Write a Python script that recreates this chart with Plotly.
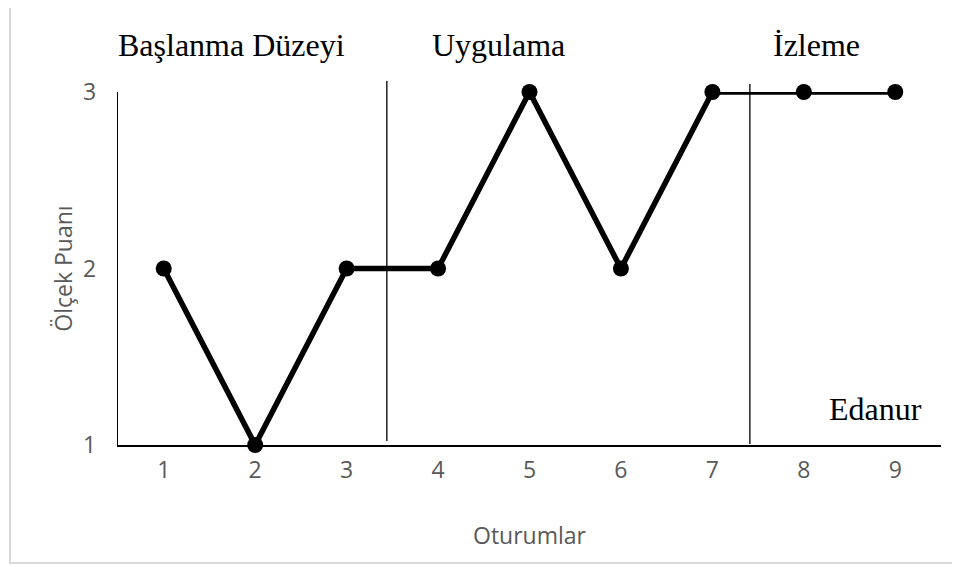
import plotly.graph_objects as go

# sessions and scale scores (Edanur)
sessions = [1, 2, 3, 4, 5, 6, 7, 8, 9]
scores = [2, 1, 2, 2, 3, 2, 3, 3, 3]
y_ticks = [1, 2, 3]

# phase labels and phase change positions (between sessions)
phase_names = ["Başlanma Düzeyi", "Uygulama", "İzleme"]
phase_label_x = [1.74, 4.66, 8.14]
phase_breaks = [3.44, 7.41]
student = "Edanur"

# page has an 8px body margin, so the figure is shrunk by that much
OFF = 8
W, H = 960 - OFF, 567 - OFF
L, R, T, B = 118 - OFF, 19, 92 - OFF, 122
plot_w = W - L - R
plot_h = H - T - B


def px_to_paper_x(px):
    return (px - OFF - L) / plot_w


def px_to_paper_y(py):
    return (H - B - (py - OFF)) / plot_h


fig = go.Figure()

fig.add_trace(go.Scatter(
    x=sessions,
    y=scores,
    mode="lines+markers",
    line=dict(color="black", width=5.5),
    marker=dict(color="black", size=16),
    cliponaxis=False,
    showlegend=False,
    hoverinfo="skip",
))

# phase change lines
for xb, (ytop, ybot) in zip(phase_breaks, [(81, 441), (84, 444)]):
    fig.add_shape(
        type="line", xref="x", yref="paper",
        x0=xb, x1=xb, y0=px_to_paper_y(ybot), y1=px_to_paper_y(ytop),
        line=dict(color="black", width=1.3),
    )

serif = dict(family="Liberation Serif, Times New Roman, serif", size=32, color="black")

for name, xl in zip(phase_names, phase_label_x):
    fig.add_annotation(
        x=xl, xref="x", y=px_to_paper_y(45), yref="paper",
        text=name, showarrow=False, font=serif,
        xanchor="center", yanchor="middle",
    )

fig.add_annotation(
    x=8.78, xref="x", y=px_to_paper_y(409), yref="paper",
    text=student, showarrow=False, font=serif,
    xanchor="center", yanchor="middle",
)

# outer chart border
fig.add_shape(
    type="rect", xref="paper", yref="paper",
    x0=px_to_paper_x(10), x1=px_to_paper_x(965),
    y0=px_to_paper_y(563), y1=px_to_paper_y(3),
    line=dict(color="#d9d9d9", width=2),
    layer="below",
)

gray_font = dict(family="Open Sans, Noto Sans, sans-serif", size=23, color="#595959")

fig.update_layout(
    width=W, height=H,
    margin=dict(l=L, r=R, t=T, b=B),
    paper_bgcolor="white",
    plot_bgcolor="white",
    font=gray_font,
    xaxis=dict(
        range=[0.5, 9.5],
        tickmode="array", tickvals=sessions, ticktext=[str(s) for s in sessions],
        showgrid=False, zeroline=False,
        showline=True, linecolor="black", linewidth=2,
        ticks="", ticklabelstandoff=3,
        tickfont=gray_font,
        title=dict(text="Oturumlar", font=gray_font, standoff=44),
    ),
    yaxis=dict(
        range=[1, 3],
        tickmode="array", tickvals=y_ticks, ticktext=[str(v) for v in y_ticks],
        showgrid=False, zeroline=False,
        showline=True, linecolor="black", linewidth=1.3,
        ticks="", ticklabelstandoff=16,
        tickfont=gray_font,
        title=dict(text="Ölçek Puanı", font=gray_font, standoff=4),
    ),
)

fig.write_html("out.html")
